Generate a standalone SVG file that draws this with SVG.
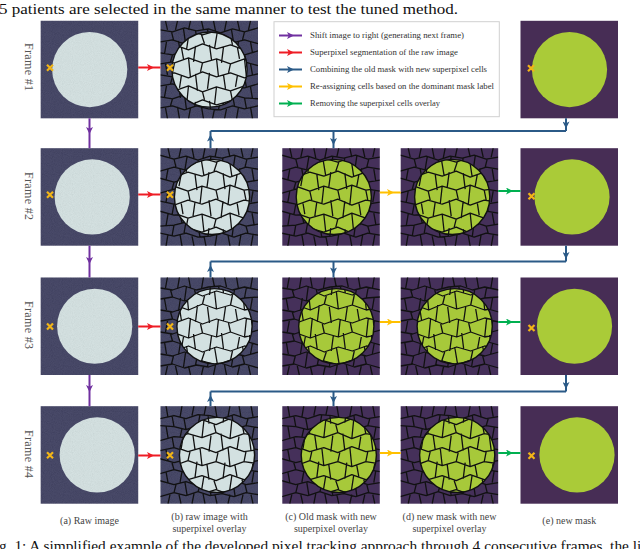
<svg xmlns="http://www.w3.org/2000/svg" xmlns:xlink="http://www.w3.org/1999/xlink" width="640" height="549" viewBox="0 0 640 549">
<style>
text{font-family:"Liberation Serif","Times New Roman",serif}
.cap{font-size:10px;fill:#444;text-anchor:middle}
.leg{font-size:8px;fill:#333}
.frm{font-size:12px;fill:#555;text-anchor:middle;dominant-baseline:central}
.body{font-size:14.5px;fill:#111}
.bgA{fill:#393a5c}
.cA{fill:#d3e1e1}
.bgM{fill:#45305a}
.cM{fill:#a7c93a}
.bgE{fill:#472d55}
.cE{fill:#aacb38}
.ring{fill:none;stroke:#111;stroke-width:1.4}
.cell{fill:none;stroke:#111;stroke-width:1.3;stroke-linejoin:round}
.ln{fill:none;stroke-width:2}
.pu{stroke:#7030a0}.rd{stroke:#ee1c25}.bl{stroke:#2b5a87}.ye{stroke:#ffc000}.gr{stroke:#00b050}
</style>
<defs>
<clipPath id="tc"><rect width="97.5" height="97.5"/></clipPath>
<clipPath id="cc1"><circle cx="49" cy="48.75" r="37.6"/></clipPath>
<clipPath id="cc2"><circle cx="51.5" cy="48.75" r="37.6"/></clipPath>
<clipPath id="cc3"><circle cx="54" cy="48.75" r="37.6"/></clipPath>
<clipPath id="cc4"><circle cx="56.5" cy="48.75" r="37.6"/></clipPath>
<filter id="grain" x="0" y="0" width="1" height="1">
<feTurbulence type="fractalNoise" baseFrequency="1.1" numOctaves="1" seed="4"/>
<feColorMatrix type="matrix" values="1 0 0 0 0  1 0 0 0 0  1 0 0 0 0  0 0 0 0 0.1"/>
</filter>
<marker id="mPu" viewBox="0 0 10 10" refX="10" refY="5" markerUnits="userSpaceOnUse" markerWidth="8" markerHeight="7" orient="auto"><path d="M0,0L10,5L0,10L2.5,5z" fill="#7030a0"/></marker>
<marker id="mRd" viewBox="0 0 10 10" refX="10" refY="5" markerUnits="userSpaceOnUse" markerWidth="8" markerHeight="7" orient="auto"><path d="M0,0L10,5L0,10L2.5,5z" fill="#ee1c25"/></marker>
<marker id="mBl" viewBox="0 0 10 10" refX="10" refY="5" markerUnits="userSpaceOnUse" markerWidth="8" markerHeight="7" orient="auto"><path d="M0,0L10,5L0,10L2.5,5z" fill="#2b5a87"/></marker>
<marker id="mYe" viewBox="0 0 10 10" refX="10" refY="5" markerUnits="userSpaceOnUse" markerWidth="8" markerHeight="7" orient="auto"><path d="M0,0L10,5L0,10L2.5,5z" fill="#ffc000"/></marker>
<marker id="mGr" viewBox="0 0 10 10" refX="10" refY="5" markerUnits="userSpaceOnUse" markerWidth="8" markerHeight="7" orient="auto"><path d="M0,0L10,5L0,10L2.5,5z" fill="#00b050"/></marker>
<path id="xm" d="M-3,-3L3,3M3,-3L-3,3" stroke="#f2b517" stroke-width="2.2" fill="none"/>
<path id="cells" class="cell" d="M0,9L12,11L24,7L36,10L48,8L60,12L72,8L84,11L98,7
M0,21L12,19L24,23L36,19L48,22L60,18L72,22L84,19L98,23
M0,32L12,34L24,30L36,34L48,31L60,35L72,31L84,34L98,30
M0,43L12,41L24,45L36,41L48,45L60,41L72,44L84,41L98,45
M0,54L12,56L24,52L36,56L48,53L60,56L72,52L84,56L98,53
M0,65L12,63L24,67L36,63L48,67L60,63L72,66L84,67L98,63
M0,76L12,78L24,74L36,78L48,75L60,78L72,74L84,77L98,78
M0,87L12,85L24,89L36,85L48,88L60,89L72,85L84,88L98,85
M5,0L7,9M17,0L15,9M30,0L28,9M41,0L43,9M53,0L55,10M66,0L64,10M77,0L79,9M90,0L88,9
M11,11L13,19M23,8L25,22M35,10L37,20M47,8L49,22M60,12L58,18M71,9L73,21M84,11L82,19
M6,21L4,33M18,20L20,33M30,21L28,32M42,20L44,33M54,20L52,33M66,20L68,33M78,21L76,32M90,21L92,32
M12,34L10,41M24,30L26,45M36,34L34,41M48,31L50,45M60,35L58,41M72,31L74,44M84,34L86,41
M5,43L7,54M17,43L19,55M30,43L28,54M41,42L43,55M54,43L52,54M66,41L64,55M78,43L76,54M90,43L92,54
M12,56L10,63M24,52L22,67M36,56L38,63M48,53L46,67M60,56L62,63M72,52L70,66M84,56L86,67
M6,65L4,76M18,64L20,77M30,65L28,76M42,63L44,78M54,65L52,78M66,63L68,76M78,66L76,75M90,66L92,78
M12,78L10,85M24,74L26,89M36,78L34,85M48,75L50,88M60,78L58,89M72,74L74,85M84,77L86,88
M5,87L7,98M17,86L19,98M30,87L28,98M41,86L43,98M54,88L52,98M66,88L64,98M78,86L76,98M90,86L92,98"/>
<path id="cellsL" class="cell" d="M0,12L14,14L28,9L42,14L56,10L70,15L84,10L98,13
M0,26L14,24L28,29L42,23L56,28L70,24L84,29L98,26
M0,40L14,42L28,37L42,42L56,38L70,43L84,38L98,41
M0,54L14,52L28,57L42,51L56,56L70,52L84,57L98,54
M0,68L14,70L28,65L42,71L56,66L70,70L84,65L98,68
M0,82L14,80L28,85L42,79L56,84L70,80L84,85L98,82
M0,96L14,94L28,98L42,94L56,98L70,94L84,98L98,96
M7,0L8,12M21,0L20,11M35,0L36,12M49,0L48,11M63,0L64,13M77,0L76,12M91,0L92,12
M13,14L16,24M29,9L26,29M41,14L44,23M57,10L54,28M70,15L72,24M85,10L82,29
M7,25L5,41M21,27L23,38M35,25L33,41M49,24L51,39M63,26L61,42M77,27L79,38M91,27L89,40
M14,42L12,52M28,37L30,57M42,42L40,51M56,38L58,56M70,43L68,52M84,38L86,57
M7,53L9,69M21,54L19,67M35,53L37,70M49,52L47,68M63,54L65,68M77,54L75,66M91,55L93,67
M14,70L16,80M28,65L26,85M42,71L44,79M56,66L54,84M70,70L72,80M84,65L82,85
M7,81L5,96M21,82L23,96M35,81L33,95M49,80L51,96M63,82L61,97M77,83L79,96M91,83L89,96"/>
</defs>

<rect width="640" height="549" fill="#fff"/>

<text class="body" x="-1" y="14" textLength="459" lengthAdjust="spacingAndGlyphs">5 patients are selected in the same manner to test the tuned method.</text>

<g id="frame-labels">
<text class="frm" transform="translate(29.3,67) rotate(90)" textLength="48">Frame #1</text>
<text class="frm" transform="translate(29.3,196) rotate(90)" textLength="48">Frame #2</text>
<text class="frm" transform="translate(29.3,325) rotate(90)" textLength="48">Frame #3</text>
<text class="frm" transform="translate(29.3,454) rotate(90)" textLength="48">Frame #4</text>
</g>

<!-- Row 1 -->
<g id="a1" transform="translate(40.7,20.8)">
<rect class="bgA" width="97.5" height="97.5"/><circle class="cA" cx="49" cy="48.75" r="37.6"/>
<rect width="97.5" height="97.5" filter="url(#grain)"/>
<use href="#xm" x="9.3" y="47"/>
</g>
<g id="b1" transform="translate(160.5,20.8)">
<rect class="bgA" width="97.5" height="97.5"/>
<rect width="97.5" height="97.5" filter="url(#grain)"/>
<g clip-path="url(#tc)"><use href="#cells"/></g>
<circle class="cA" cx="49" cy="48.75" r="37.6"/>
<g clip-path="url(#cc1)"><use href="#cellsL"/></g>
<circle class="ring" cx="49" cy="48.75" r="37.6"/>
<use href="#xm" x="9.5" y="47"/>
</g>
<g id="e1" transform="translate(520.5,20.8)">
<rect class="bgE" width="97.5" height="97.5"/><circle class="cE" cx="49" cy="48.75" r="37.6"/>
<use href="#xm" x="10.5" y="47.5"/>
</g>

<!-- Row 2 -->
<g id="a2" transform="translate(40.7,148.2)">
<rect class="bgA" width="97.5" height="97.5"/><circle class="cA" cx="51.5" cy="48.75" r="37.6"/>
<rect width="97.5" height="97.5" filter="url(#grain)"/>
<use href="#xm" x="9.3" y="46.5"/>
</g>
<g id="b2" transform="translate(160.5,148.2)">
<rect class="bgA" width="97.5" height="97.5"/>
<rect width="97.5" height="97.5" filter="url(#grain)"/>
<g clip-path="url(#tc)"><use href="#cells" transform="matrix(-1,0,0,1,97.5,0)"/></g>
<circle class="cA" cx="51.5" cy="48.75" r="37.6"/>
<g clip-path="url(#cc2)"><use href="#cellsL" transform="matrix(-1,0,0,1,97.5,0)"/></g>
<circle class="ring" cx="51.5" cy="48.75" r="37.6"/>
<use href="#xm" x="9.5" y="46.5"/>
</g>
<g id="c2" transform="translate(282.3,148.2)">
<rect class="bgM" width="97.5" height="97.5"/>
<g clip-path="url(#tc)"><use href="#cells" transform="matrix(-1,0,0,1,97.5,0)"/></g>
<circle class="cM" cx="51.5" cy="48.75" r="37.6"/>
<g clip-path="url(#cc2)"><use href="#cellsL" transform="matrix(-1,0,0,1,97.5,0)"/></g>
<circle class="ring" cx="51.5" cy="48.75" r="37.6"/>
</g>
<g id="d2" transform="translate(400.7,148.2)">
<rect class="bgM" width="97.5" height="97.5"/>
<g clip-path="url(#tc)"><use href="#cells" transform="matrix(-1,0,0,1,97.5,0)"/></g>
<circle class="cM" cx="51.5" cy="48.75" r="37.6"/>
<g clip-path="url(#cc2)"><use href="#cellsL" transform="matrix(-1,0,0,1,97.5,0)"/></g>
<circle class="ring" cx="51.5" cy="48.75" r="37.6"/>
</g>
<g id="e2" transform="translate(520.5,148.2)">
<rect class="bgE" width="97.5" height="97.5"/><circle class="cE" cx="51.5" cy="48.75" r="37.6"/>
<use href="#xm" x="11" y="48"/>
</g>

<!-- Row 3 -->
<g id="a3" transform="translate(40.7,277.5)">
<rect class="bgA" width="97.5" height="97.5"/><circle class="cA" cx="54" cy="48.75" r="37.6"/>
<rect width="97.5" height="97.5" filter="url(#grain)"/>
<use href="#xm" x="9.3" y="49"/>
</g>
<g id="b3" transform="translate(160.5,277.5)">
<rect class="bgA" width="97.5" height="97.5"/>
<rect width="97.5" height="97.5" filter="url(#grain)"/>
<g clip-path="url(#tc)"><use href="#cells" transform="matrix(1,0,0,-1,0,97.5)"/></g>
<circle class="cA" cx="54" cy="48.75" r="37.6"/>
<g clip-path="url(#cc3)"><use href="#cellsL" transform="matrix(1,0,0,-1,0,97.5)"/></g>
<circle class="ring" cx="54" cy="48.75" r="37.6"/>
<use href="#xm" x="9.5" y="49"/>
</g>
<g id="c3" transform="translate(282.3,277.5)">
<rect class="bgM" width="97.5" height="97.5"/>
<g clip-path="url(#tc)"><use href="#cells" transform="matrix(1,0,0,-1,0,97.5)"/></g>
<circle class="cM" cx="54" cy="48.75" r="37.6"/>
<g clip-path="url(#cc3)"><use href="#cellsL" transform="matrix(1,0,0,-1,0,97.5)"/></g>
<circle class="ring" cx="54" cy="48.75" r="37.6"/>
</g>
<g id="d3" transform="translate(400.7,277.5)">
<rect class="bgM" width="97.5" height="97.5"/>
<g clip-path="url(#tc)"><use href="#cells" transform="matrix(1,0,0,-1,0,97.5)"/></g>
<circle class="cM" cx="54" cy="48.75" r="37.6"/>
<g clip-path="url(#cc3)"><use href="#cellsL" transform="matrix(1,0,0,-1,0,97.5)"/></g>
<circle class="ring" cx="54" cy="48.75" r="37.6"/>
</g>
<g id="e3" transform="translate(520.5,277.5)">
<rect class="bgE" width="97.5" height="97.5"/><circle class="cE" cx="54" cy="48.75" r="37.6"/>
<use href="#xm" x="11" y="50.5"/>
</g>

<!-- Row 4 -->
<g id="a4" transform="translate(40.7,406.2)">
<rect class="bgA" width="97.5" height="97.5"/><circle class="cA" cx="56.5" cy="48.75" r="37.6"/>
<rect width="97.5" height="97.5" filter="url(#grain)"/>
<use href="#xm" x="9.3" y="49"/>
</g>
<g id="b4" transform="translate(160.5,406.2)">
<rect class="bgA" width="97.5" height="97.5"/>
<rect width="97.5" height="97.5" filter="url(#grain)"/>
<g clip-path="url(#tc)"><use href="#cells" transform="matrix(-1,0,0,-1,97.5,97.5)"/></g>
<circle class="cA" cx="56.5" cy="48.75" r="37.6"/>
<g clip-path="url(#cc4)"><use href="#cellsL" transform="matrix(-1,0,0,-1,97.5,97.5)"/></g>
<circle class="ring" cx="56.5" cy="48.75" r="37.6"/>
<use href="#xm" x="9.5" y="49"/>
</g>
<g id="c4" transform="translate(282.3,406.2)">
<rect class="bgM" width="97.5" height="97.5"/>
<g clip-path="url(#tc)"><use href="#cells" transform="matrix(-1,0,0,-1,97.5,97.5)"/></g>
<circle class="cM" cx="56.5" cy="48.75" r="37.6"/>
<g clip-path="url(#cc4)"><use href="#cellsL" transform="matrix(-1,0,0,-1,97.5,97.5)"/></g>
<circle class="ring" cx="56.5" cy="48.75" r="37.6"/>
</g>
<g id="d4" transform="translate(400.7,406.2)">
<rect class="bgM" width="97.5" height="97.5"/>
<g clip-path="url(#tc)"><use href="#cells" transform="matrix(-1,0,0,-1,97.5,97.5)"/></g>
<circle class="cM" cx="56.5" cy="48.75" r="37.6"/>
<g clip-path="url(#cc4)"><use href="#cellsL" transform="matrix(-1,0,0,-1,97.5,97.5)"/></g>
<circle class="ring" cx="56.5" cy="48.75" r="37.6"/>
</g>
<g id="e4" transform="translate(520.5,406.2)">
<rect class="bgE" width="97.5" height="97.5"/><circle class="cE" cx="56.5" cy="48.75" r="37.6"/>
<use href="#xm" x="11" y="49.5"/>
</g>

<!-- Legend -->
<g id="legend">
<rect x="274" y="21.7" width="225.3" height="95" fill="#fff" stroke="#d0d0d0" stroke-width="1"/>
<path class="ln pu" d="M279,35.5L294,35.5L302,35.5" marker-mid="url(#mPu)"/>
<path class="ln rd" d="M279,52.5L294,52.5L302,52.5" marker-mid="url(#mRd)"/>
<path class="ln bl" d="M279,69.5L294,69.5L302,69.5" marker-mid="url(#mBl)"/>
<path class="ln ye" d="M279,86.5L294,86.5L302,86.5" marker-mid="url(#mYe)"/>
<path class="ln gr" d="M279,103.5L294,103.5L302,103.5" marker-mid="url(#mGr)"/>
<text class="leg" x="310" y="38.3" textLength="154" lengthAdjust="spacingAndGlyphs">Shift image to right (generating next frame)</text>
<text class="leg" x="310" y="55.3" textLength="148" lengthAdjust="spacingAndGlyphs">Superpixel segmentation of the raw image</text>
<text class="leg" x="310" y="72.3" textLength="177" lengthAdjust="spacingAndGlyphs">Combining the old mask with new superpixel cells</text>
<text class="leg" x="310" y="89.3" textLength="184" lengthAdjust="spacingAndGlyphs">Re-assigning cells based on the dominant mask label</text>
<text class="leg" x="310" y="106.3" textLength="130" lengthAdjust="spacingAndGlyphs">Removing the superpixel cells overlay</text>
</g>

<!-- Connectors -->
<g id="connectors">
<path class="ln pu" d="M89.5,118.3L89.5,134L89.5,148.2" marker-mid="url(#mPu)"/>
<path class="ln pu" d="M89.5,245.7L89.5,264L89.5,277.5" marker-mid="url(#mPu)"/>
<path class="ln pu" d="M89.5,375L89.5,392L89.5,406.2" marker-mid="url(#mPu)"/>
<path class="ln rd" d="M138.2,67.5L154,67.5L160.5,67.5" marker-mid="url(#mRd)"/>
<path class="ln rd" d="M138.2,194.5L154,194.5L160.5,194.5" marker-mid="url(#mRd)"/>
<path class="ln rd" d="M138.2,326.5L154,326.5L160.5,326.5" marker-mid="url(#mRd)"/>
<path class="ln rd" d="M138.2,455.5L154,455.5L160.5,455.5" marker-mid="url(#mRd)"/>
<path class="ln bl" d="M210.5,131H566"/>
<path class="ln bl" d="M566,118.3L566,128.5L566,131" marker-mid="url(#mBl)"/>
<path class="ln bl" d="M210.5,148.2L210.5,134.5L210.5,131" marker-mid="url(#mBl)"/>
<path class="ln bl" d="M333.5,131L333.5,145L333.5,148.2" marker-mid="url(#mBl)"/>
<path class="ln bl" d="M210.5,261.5H566"/>
<path class="ln bl" d="M566,245.7L566,259L566,261.5" marker-mid="url(#mBl)"/>
<path class="ln bl" d="M210.5,277.5L210.5,265L210.5,261.5" marker-mid="url(#mBl)"/>
<path class="ln bl" d="M333.5,261.5L333.5,274.5L333.5,277.5" marker-mid="url(#mBl)"/>
<path class="ln bl" d="M210.5,391.5H566"/>
<path class="ln bl" d="M566,375L566,389L566,391.5" marker-mid="url(#mBl)"/>
<path class="ln bl" d="M210.5,406.2L210.5,395L210.5,391.5" marker-mid="url(#mBl)"/>
<path class="ln bl" d="M333.5,391.5L333.5,403L333.5,406.2" marker-mid="url(#mBl)"/>
<path class="ln ye" d="M379.8,192.5L394,192.5L400.7,192.5" marker-mid="url(#mYe)"/>
<path class="ln ye" d="M379.8,322L394,322L400.7,322" marker-mid="url(#mYe)"/>
<path class="ln ye" d="M379.8,453L394,453L400.7,453" marker-mid="url(#mYe)"/>
<path class="ln gr" d="M498.2,191L513,191L520.5,191" marker-mid="url(#mGr)"/>
<path class="ln gr" d="M498.2,322L513,322L520.5,322" marker-mid="url(#mGr)"/>
<path class="ln gr" d="M498.2,453L513,453L520.5,453" marker-mid="url(#mGr)"/>
</g>

<g id="captions">
<text class="cap" x="89.5" y="524">(a) Raw image</text>
<text class="cap" x="209.5" y="519.5">(b) raw image with</text>
<text class="cap" x="209.5" y="531.5">superpixel overlay</text>
<text class="cap" x="331" y="519.5">(c) Old mask with new</text>
<text class="cap" x="331" y="531.5">superpixel overlay</text>
<text class="cap" x="449.5" y="519.5">(d) new mask with new</text>
<text class="cap" x="449.5" y="531.5">superpixel overlay</text>
<text class="cap" x="569.3" y="524">(e) new mask</text>
</g>

<text class="body" x="-1" y="550.5" textLength="650" lengthAdjust="spacingAndGlyphs">g. 1: A simplified example of the developed pixel tracking approach through 4 consecutive frames, the lig</text>
</svg>
